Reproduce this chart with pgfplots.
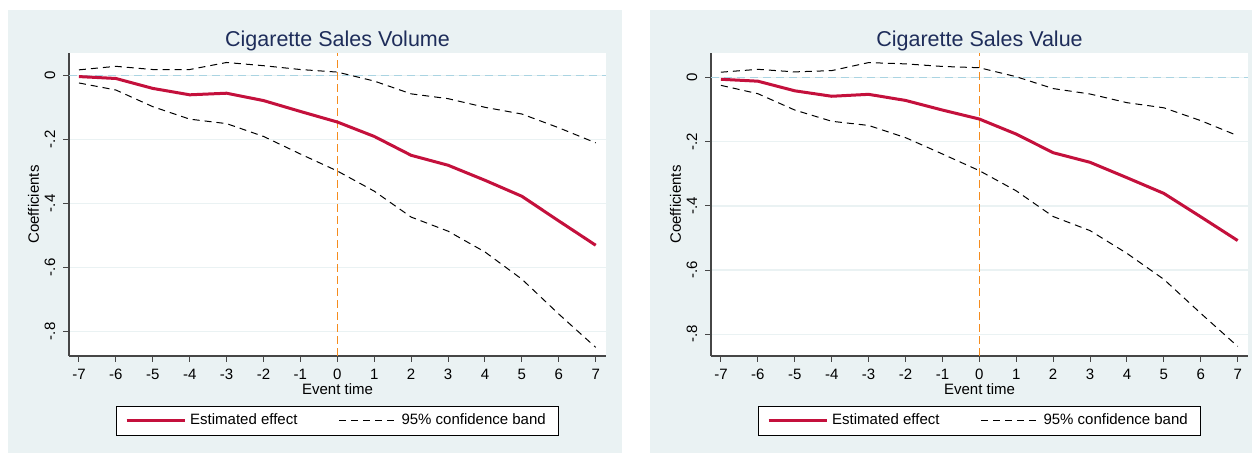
\documentclass[border=0pt]{standalone}
\usepackage{fontspec}
\setmainfont{Liberation Sans}
\usepackage{pgfplots}
\pgfplotsset{compat=1.18}
\definecolor{panelbg}{RGB}{234,242,243}
\definecolor{titlecol}{RGB}{30,45,90}
\definecolor{estcol}{RGB}{196,16,60}
\definecolor{StOrange}{RGB}{245,140,30}
\definecolor{StLBlue}{RGB}{170,212,226}
\definecolor{axcol}{RGB}{70,70,70}

\pgfplotsset{
  stpanel/.style={
    scale only axis,
    width=268.5pt, height=151.5pt,
    anchor=south west,
    axis lines*=left,
    axis line style={axcol, line width=0.6pt},
    axis background/.style={fill=white},
    tick align=outside,
    major tick length=3pt,
    tick style={axcol, line width=0.5pt},
    xmin=-7.27, xmax=7.28,
    xtick={-7,-6,...,7},
    xticklabels={-7,-6,-5,-4,-3,-2,-1,0,1,2,3,4,5,6,7},
    ytick={-0.8,-0.6,-0.4,-0.2,0},
    yticklabels={-.8,-.6,-.4,-.2,0},
    ymajorgrids,
    grid style={panelbg, line width=0.6pt},
    ticklabel style={font=\fontsize{7.5}{9}\selectfont, text=black, inner sep=0pt},
    xticklabel style={anchor=base, yshift=-9pt},
    yticklabel style={xshift=-4pt, rotate=90, anchor=base},
    title style={font=\fontsize{10.75}{12}\selectfont, text=titlecol, at={(0.5,1)}, anchor=base, yshift=-2.65pt},
    xlabel={Event time},
    xlabel style={font=\fontsize{7.5}{9}\selectfont, inner sep=0pt, at={(axis description cs:0.5,0)}, anchor=base, yshift=-19.5pt},
    ylabel={Coefficients},
    ylabel style={font=\fontsize{7.5}{9}\selectfont, inner sep=0pt, at={(axis description cs:-0.0559,0.5)}, rotate=0, anchor=base},
    legend columns=2,
    legend style={at={(0.5,-0.2145)}, anchor=center, draw=black, line width=0.5pt, fill=white,
      font=\fontsize{7.5}{9}\selectfont, inner xsep=4.5pt, inner ysep=2pt,
      /tikz/every even column/.append style={column sep=18.5pt}},
    legend image code/.code={\draw[##1] (0pt,0pt) -- (29pt,0pt);},
    clip=false,
  },
  estline/.style={color=estcol, line width=1.5pt, no marks},
  ciline/.style={color=black, line width=0.5pt, dash pattern=on 3.5pt off 2.5pt, no marks},
  zeroline/.style={color=StLBlue, line width=0.75pt, dash pattern=on 4pt off 2.5pt, no marks, forget plot},
  eventline/.style={color=StOrange, line width=0.75pt, dash pattern=on 4pt off 2pt, no marks, forget plot},
}

\begin{document}
\begin{tikzpicture}
\useasboundingbox (0,0) rectangle (626.5pt,226.5pt);
\fill[white] (0,0) rectangle (626.5pt,226.5pt);
\fill[panelbg] (4pt,0pt) rectangle (311pt,221.5pt);
\fill[panelbg] (325pt,0pt) rectangle (626pt,221.5pt);

% ---------- Left panel: Volume ----------
\begin{axis}[stpanel, at={(34.5pt,48.5pt)}, ymin=-0.877, ymax=0.0697,
  title={Cigarette Sales Volume}]
\addplot[zeroline] coordinates {(-7.27,0) (7.28,0)};
\addplot[eventline] coordinates {(0,-0.877) (0,0.0697)};
\addplot[estline] coordinates {
(-7,-0.004) (-6,-0.010) (-5,-0.041) (-4,-0.061) (-3,-0.056) (-2,-0.079) (-1,-0.113) (0,-0.146)
(1,-0.191) (2,-0.250) (3,-0.281) (4,-0.328) (5,-0.378) (6,-0.455) (7,-0.531)};
\addlegendentry{Estimated effect}
\addplot[ciline] coordinates {
(-7,0.017) (-6,0.028) (-5,0.018) (-4,0.018) (-3,0.040) (-2,0.030) (-1,0.018) (0,0.010)
(1,-0.018) (2,-0.058) (3,-0.073) (4,-0.100) (5,-0.121) (6,-0.164) (7,-0.211)};
\addlegendentry{95\% confidence band}
\addplot[ciline, forget plot] coordinates {
(-7,-0.024) (-6,-0.046) (-5,-0.098) (-4,-0.137) (-3,-0.151) (-2,-0.191) (-1,-0.246) (0,-0.299)
(1,-0.362) (2,-0.443) (3,-0.487) (4,-0.552) (5,-0.637) (6,-0.746) (7,-0.850)};
\end{axis}

% ---------- Right panel: Value ----------
\begin{axis}[stpanel, at={(355.5pt,48.5pt)}, ymin=-0.868, ymax=0.077,
  title={Cigarette Sales Value}]
\addplot[zeroline] coordinates {(-7.27,0) (7.28,0)};
\addplot[eventline] coordinates {(0,-0.868) (0,0.077)};
\addplot[estline] coordinates {
(-7,-0.005) (-6,-0.011) (-5,-0.041) (-4,-0.058) (-3,-0.052) (-2,-0.071) (-1,-0.101) (0,-0.129)
(1,-0.176) (2,-0.234) (3,-0.264) (4,-0.312) (5,-0.361) (6,-0.434) (7,-0.508)};
\addlegendentry{Estimated effect}
\addplot[ciline] coordinates {
(-7,0.017) (-6,0.026) (-5,0.018) (-4,0.022) (-3,0.047) (-2,0.043) (-1,0.035) (0,0.031)
(1,0.003) (2,-0.034) (3,-0.051) (4,-0.078) (5,-0.094) (6,-0.134) (7,-0.181)};
\addlegendentry{95\% confidence band}
\addplot[ciline, forget plot] coordinates {
(-7,-0.024) (-6,-0.050) (-5,-0.101) (-4,-0.136) (-3,-0.149) (-2,-0.187) (-1,-0.238) (0,-0.290)
(1,-0.353) (2,-0.433) (3,-0.477) (4,-0.548) (5,-0.629) (6,-0.735) (7,-0.838)};
\end{axis}
\end{tikzpicture}
\end{document}
